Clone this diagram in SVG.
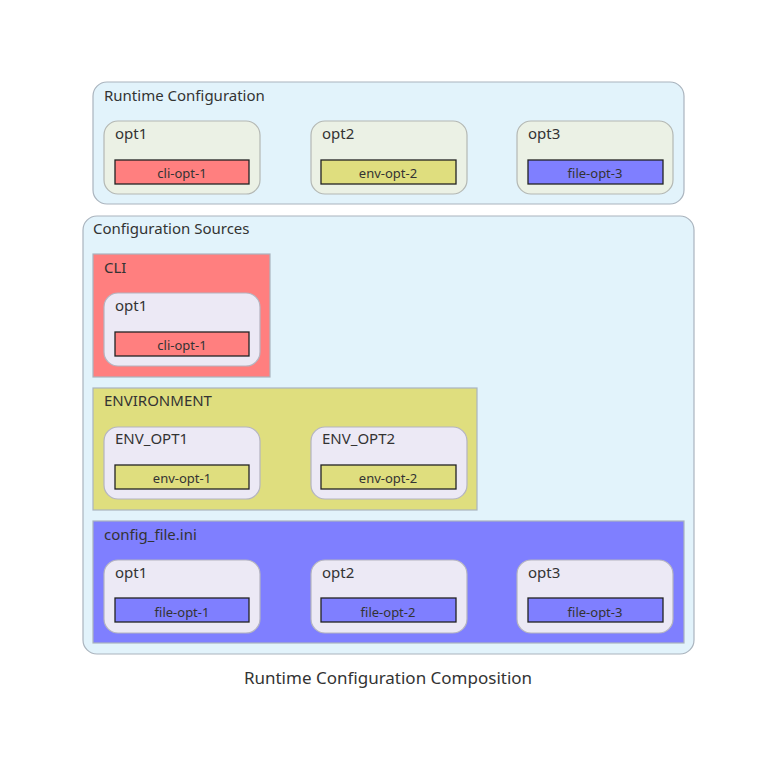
<svg xmlns="http://www.w3.org/2000/svg" width="777" height="767" viewBox="0 0 777 767">
<style>
text{font-family:"Noto Sans","Open Sans",sans-serif;fill:#333}
.grp{fill:#E2F3FB;stroke:#AAB4BE;stroke-width:1.2}
.src{stroke:#AAB4BE;stroke-width:1.2}
.rt{fill:#EBF1E5;stroke:#B4B8B4;stroke-width:1.2}
.so{fill:#ECE9F5;stroke:#B4B4C0;stroke-width:1.2}
.v{stroke:#222;stroke-width:1.3}
.t{font-size:15px}
.s{font-size:13px;text-anchor:middle}
</style>
<rect width="777" height="767" fill="#fff"/>
<g id="runtime">
<rect class="grp" x="93" y="82" width="591" height="122" rx="14"/>
<text class="t" x="104" y="101">Runtime Configuration</text>
<g id="rt-opt1"><rect class="rt" x="104" y="121" width="156" height="73" rx="14"/><text class="t" x="115" y="139">opt1</text><rect class="v" fill="#FF7F7F" x="115" y="160" width="134" height="24"/><text class="s" x="182" y="178">cli-opt-1</text></g>
<g id="rt-opt2"><rect class="rt" x="311" y="121" width="156" height="73" rx="14"/><text class="t" x="322" y="139">opt2</text><rect class="v" fill="#DFDE7E" x="321" y="160" width="135" height="24"/><text class="s" x="388" y="178">env-opt-2</text></g>
<g id="rt-opt3"><rect class="rt" x="517" y="121" width="156" height="73" rx="14"/><text class="t" x="528" y="139">opt3</text><rect class="v" fill="#7F7FFF" x="528" y="160" width="135" height="24"/><text class="s" x="595" y="178">file-opt-3</text></g>
</g>
<g id="sources">
<rect class="grp" x="83" y="216" width="611" height="438" rx="14"/>
<text class="t" x="93" y="234">Configuration Sources</text>
<g id="cli">
<rect class="src" fill="#FF7F7F" x="93" y="254" width="177" height="123"/>
<text class="t" x="104" y="273">CLI</text>
<g id="cli-opt1"><rect class="so" x="104" y="293" width="156" height="73" rx="14"/><text class="t" x="115" y="311">opt1</text><rect class="v" fill="#FF7F7F" x="115" y="332" width="134" height="24"/><text class="s" x="182" y="350">cli-opt-1</text></g>
</g>
<g id="env">
<rect class="src" fill="#DFDE7E" x="93" y="388" width="384" height="122"/>
<text class="t" x="104" y="406">ENVIRONMENT</text>
<g id="env1"><rect class="so" x="104" y="427" width="156" height="72" rx="14"/><text class="t" x="115" y="444">ENV_OPT1</text><rect class="v" fill="#DFDE7E" x="115" y="465" width="134" height="24"/><text class="s" x="182" y="483">env-opt-1</text></g>
<g id="env2"><rect class="so" x="311" y="427" width="156" height="72" rx="14"/><text class="t" x="322" y="444">ENV_OPT2</text><rect class="v" fill="#DFDE7E" x="321" y="465" width="135" height="24"/><text class="s" x="388" y="483">env-opt-2</text></g>
</g>
<g id="file">
<rect class="src" fill="#7F7FFF" x="93" y="521" width="591" height="122"/>
<text class="t" x="104" y="540">config_file.ini</text>
<g id="f1"><rect class="so" x="104" y="560" width="156" height="73" rx="14"/><text class="t" x="115" y="578">opt1</text><rect class="v" fill="#7F7FFF" x="115" y="598" width="134" height="24"/><text class="s" x="182" y="617">file-opt-1</text></g>
<g id="f2"><rect class="so" x="311" y="560" width="156" height="73" rx="14"/><text class="t" x="322" y="578">opt2</text><rect class="v" fill="#7F7FFF" x="321" y="598" width="135" height="24"/><text class="s" x="388" y="617">file-opt-2</text></g>
<g id="f3"><rect class="so" x="517" y="560" width="156" height="73" rx="14"/><text class="t" x="528" y="578">opt3</text><rect class="v" fill="#7F7FFF" x="528" y="598" width="135" height="24"/><text class="s" x="595" y="617">file-opt-3</text></g>
</g>
</g>
<g id="connectors"/>
<text x="388" y="684" font-size="17" text-anchor="middle">Runtime Configuration Composition</text>
</svg>
